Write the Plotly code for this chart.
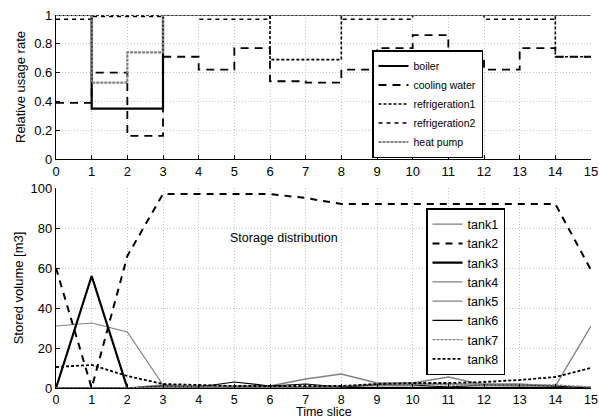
import plotly.graph_objects as go

# ---------------- data ----------------
time_slices = list(range(16))  # 0..15

# top plot: relative usage rate per time slot [t, t+1) (last value repeated for step end)
boiler = [1, 0.35, 0.35, 1, 1, 1, 1, 1, 1, 1, 1, 1, 1, 1, 1, 1]
cooling_water = [0.39, 0.60, 0.16, 0.71, 0.62, 0.77, 0.54, 0.53, 0.62, 0.77, 0.86, 0.71, 0.62, 0.77, 0.71, 0.71]
refrigeration1 = [1, 1, 1, 1, 1, 1, 0.69, 0.69, 1, 1, 1, 1, 1, 1, 0.71, 0.71]
refrigeration2 = [0.97, 0.99, 0.99, 1, 0.97, 0.97, 1, 1, 0.97, 0.97, 1, 1, 0.97, 0.97, 1, 1]
heat_pump = [1, 0.53, 0.74, 1, 1, 1, 1, 1, 1, 1, 1, 1, 1, 1, 1, 1]

# bottom plot: stored volume [m3]
tank1 = [31, 32.5, 28, 1.5, 1, 0.5, 0.5, 0.5, 0.5, 0.5, 0.5, 0.5, 0.5, 0.5, 0.5, 0.5]
tank2 = [60, 0, 66, 97, 97, 97, 97, 95, 92, 92, 92, 92, 92, 92, 92, 59]
tank3 = [0, 56, 0, 0, 0, 0, 0, 0, 0, 0, 0, 0, 0, 0, 0, 0]
tank4 = [0, 0, 0, 1.5, 1, 1, 1, 4.5, 7, 2.5, 2.5, 5.5, 1.5, 1, 1, 31]
tank5 = [0, 0, 0, 0.5, 0.5, 0.5, 0.5, 0.5, 0.5, 2, 2, 2, 2, 2, 1, 0]
tank6 = [0, 0, 0, 1, 0.5, 3, 1, 2, 0.5, 1.5, 1.5, 0.5, 1.5, 1.5, 1, 0]
tank7 = [0, 0, 0, 0.5, 0.5, 0.5, 0.5, 0.5, 1, 1.5, 2, 1.5, 1.5, 1.5, 1.5, 0.5]
tank8 = [10.5, 11.5, 6, 2, 1.5, 1, 1, 1, 1, 2, 2.5, 2.5, 3, 4, 5.5, 10]

x_ticks = list(range(16))
top_y_ticks = [0, 0.2, 0.4, 0.6, 0.8, 1]
top_y_labels = ["0", "0.2", "0.4", "0.6", "0.8", "1"]
bottom_y_ticks = [0, 20, 40, 60, 80, 100]

# ---------------- styles ----------------
GRAY = "#808080"
FONT = "Liberation Sans, Arial, sans-serif"

fig = go.Figure()

top_series = [
    ("boiler", boiler, dict(color="black", width=2.2, dash="solid")),
    ("cooling water", cooling_water, dict(color="black", width=1.8, dash="8px,6px")),
    ("refrigeration1", refrigeration1, dict(color="black", width=1.6, dash="3px,2px")),
    ("refrigeration2", refrigeration2, dict(color="black", width=1.6, dash="4px,4px")),
    ("heat pump", heat_pump, dict(color=GRAY, width=2.2, dash="3px,1px")),
]
for name, ys, ln in top_series:
    fig.add_trace(go.Scatter(x=time_slices, y=ys, name=name, mode="lines",
                             line=dict(shape="hv", **ln), xaxis="x", yaxis="y",
                             legend="legend"))

bottom_series = [
    ("tank1", tank1, dict(color=GRAY, width=1.2, dash="solid")),
    ("tank2", tank2, dict(color="black", width=2, dash="7px,6px")),
    ("tank3", tank3, dict(color="black", width=2.2, dash="solid")),
    ("tank4", tank4, dict(color=GRAY, width=1.4, dash="solid")),
    ("tank5", tank5, dict(color=GRAY, width=1.4, dash="solid")),
    ("tank6", tank6, dict(color="black", width=1.2, dash="solid")),
    ("tank7", tank7, dict(color=GRAY, width=1.4, dash="3px,1px")),
    ("tank8", tank8, dict(color="black", width=1.8, dash="3px,2px")),
]
for name, ys, ln in bottom_series:
    fig.add_trace(go.Scatter(x=time_slices, y=ys, name=name, mode="lines",
                             line=ln, xaxis="x2", yaxis="y2", legend="legend2"))

W, H = 599, 420
x_dom = [56 / W, 591 / W]
top_dom = [1 - 159 / H, 1 - 15 / H]
bot_dom = [1 - 388 / H, 1 - 188 / H]

axis_common = dict(
    automargin=False,
    showline=True, linecolor="black", linewidth=1.2,
    ticks="inside", ticklen=4, tickcolor="black", tickwidth=1,
    showgrid=True, gridcolor="#c4c4c4", griddash="1px,2px", gridwidth=1,
    zeroline=False, tickfont=dict(family=FONT, size=13, color="black"),
    ticklabeloverflow="allow",
)
x2_axis = dict(axis_common)
x2_axis["tickfont"] = dict(family=FONT, size=12.5, color="black")

fig.update_layout(
    template="none",
    width=W, height=H,
    margin=dict(l=0, r=0, t=0, b=0),
    paper_bgcolor="white", plot_bgcolor="white",
    font=dict(family=FONT, color="black"),
    xaxis=dict(domain=x_dom, range=[0, 15], tickvals=x_ticks, anchor="y", **axis_common),
    yaxis=dict(domain=top_dom, range=[0, 1], tickvals=top_y_ticks, ticktext=top_y_labels,
               anchor="x", title=dict(text="Relative usage rate", font=dict(size=13), standoff=5),
               **axis_common),
    xaxis2=dict(domain=x_dom, range=[0, 15], tickvals=x_ticks, anchor="y2", **x2_axis),
    yaxis2=dict(domain=bot_dom, range=[0, 100], tickvals=bottom_y_ticks, anchor="x2",
                title=dict(text="Stored volume [m3]", font=dict(size=13), standoff=4),
                **axis_common),
    legend=dict(x=372 / W, y=1 - 50 / H, xanchor="left", yanchor="top",
                bgcolor="white", bordercolor="black", borderwidth=1.5,
                font=dict(family=FONT, size=10.5), tracegroupgap=0, itemwidth=30),
    legend2=dict(x=426 / W, y=1 - 208 / H, xanchor="left", yanchor="top",
                 bgcolor="white", bordercolor="black", borderwidth=1.5,
                 font=dict(family=FONT, size=12.5), tracegroupgap=0, itemwidth=30),
    showlegend=True,
    annotations=[
        dict(x=6.4, y=75, xref="x2", yref="y2", text="Storage distribution",
             showarrow=False, font=dict(family=FONT, size=12.5, color="black")),
        dict(x=sum(x_dom) / 2, y=0, xref="paper", yref="paper", yanchor="bottom",
             text="Time slice", showarrow=False, borderpad=0,
             font=dict(family=FONT, size=12.5, color="black")),
    ],
)

fig.write_html("out.html", config={"displayModeBar": False},
               post_script="document.body.style.margin='0';document.body.style.overflow='hidden';")
